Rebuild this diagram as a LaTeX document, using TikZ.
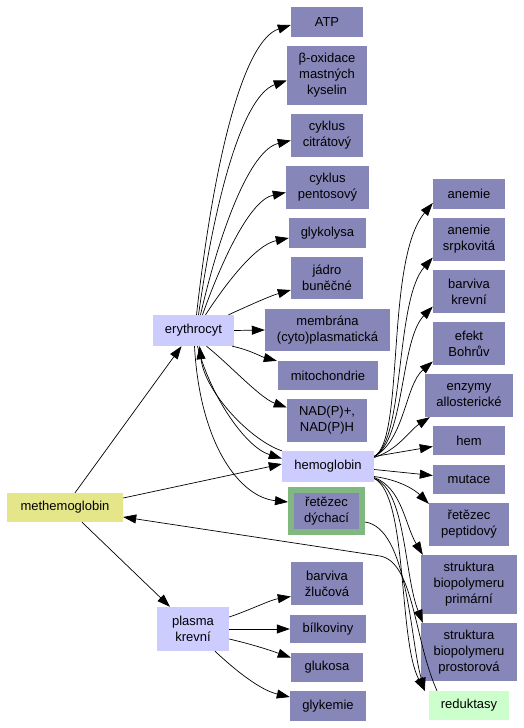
\documentclass[tikz,border=0pt]{standalone}
\usepackage{fontspec}
\setmainfont{Liberation Sans}
\usetikzlibrary{arrows.meta}
\definecolor{pur}{HTML}{8686B9}
\definecolor{lav}{HTML}{CCCCFF}
\definecolor{yel}{HTML}{E5E58A}
\definecolor{grn}{HTML}{80B880}
\definecolor{lgr}{HTML}{CCFFCC}
\tikzset{
  base/.style={rectangle, inner sep=0pt, align=center, font=\fontsize{13}{16}\selectfont},
  box/.style={base, fill=pur},
  lbox/.style={base, fill=lav},
  edge/.style={line width=0.7pt, -{Triangle[length=13pt,width=9pt]}},
}
\begin{document}
\begin{tikzpicture}[x=1pt,y=-1pt]
\useasboundingbox[fill=white] (0,0) rectangle (524,728);
% left/center nodes
\node[base, fill=yel, minimum width=116, minimum height=29] (meth) at (65,507.5) {methemoglobin};
\node[lbox, minimum width=81, minimum height=31] (ery) at (193.5,330.5) {erythrocyt};
\node[lbox, minimum width=72, minimum height=44] (plasma) at (193,629) {plasma\\krevní};
% middle column
\node[box, minimum width=72, minimum height=30] (atp) at (327,22) {ATP};
\node[box, minimum width=80, minimum height=59] (beta) at (327,75.5) {β-oxidace\\mastných\\kyselin};
\node[box, minimum width=72, minimum height=43] (citr) at (327,135.5) {cyklus\\citrátový};
\node[box, minimum width=83, minimum height=43] (pent) at (327.5,187.5) {cyklus\\pentosový};
\node[box, minimum width=77, minimum height=30] (glyk) at (327.5,233) {glykolysa};
\node[box, minimum width=72, minimum height=42] (jadro) at (327,278) {jádro\\buněčné};
\node[box, minimum width=125, minimum height=42] (mem) at (327.5,330) {membrána\\(cyto)plasmatická};
\node[box, minimum width=100, minimum height=29] (mito) at (328,375.5) {mitochondrie};
\node[box, minimum width=80, minimum height=43] (nad) at (327,420.5) {NAD(P)+,\\NAD(P)H};
\node[lbox, minimum width=92, minimum height=31] (hemo) at (328,466.5) {hemoglobin};
\node[box, draw=grn, line width=6pt, minimum width=71, minimum height=42] (dych) at (326.5,511) {řetězec\\dýchací};
\node[box, minimum width=72, minimum height=43] (zluc) at (327,583.5) {barviva\\žlučová};
\node[box, minimum width=76, minimum height=28] (bilk) at (328,629) {bílkoviny};
\node[box, minimum width=72, minimum height=29] (gluk) at (327,667.5) {glukosa};
\node[box, minimum width=76, minimum height=30] (glykem) at (328,706) {glykemie};
% right column
\node[box, minimum width=72, minimum height=30] (anem) at (469,194) {anemie};
\node[box, minimum width=72, minimum height=43] (srp) at (469,239.5) {anemie\\srpkovitá};
\node[box, minimum width=72, minimum height=43] (krev) at (469,291.5) {barviva\\krevní};
\node[box, minimum width=72, minimum height=43] (bohr) at (469,343.5) {efekt\\Bohrův};
\node[box, minimum width=88, minimum height=43] (enz) at (469,395.5) {enzymy\\allosterické};
\node[box, minimum width=72, minimum height=29] (hem) at (469,440.5) {hem};
\node[box, minimum width=72, minimum height=29] (mut) at (469,479.5) {mutace};
\node[box, minimum width=80, minimum height=43] (pept) at (469,524.5) {řetězec\\peptidový};
\node[box, minimum width=96, minimum height=59] (prim) at (469,584.5) {struktura\\biopolymeru\\primární};
\node[box, minimum width=96, minimum height=58] (prost) at (469,652) {struktura\\biopolymeru\\prostorová};
\node[base, fill=lgr, minimum width=80, minimum height=29] (red) at (469,705.5) {reduktasy};
% erythrocyt edges
\draw[edge] ([xshift=3pt]ery.north) .. controls (215,150) and (245,40) .. ([yshift=-3pt]atp.west);
\draw[edge] ([xshift=5pt]ery.north) .. controls (217,185) and (245,95) .. ([yshift=-5pt]beta.west);
\draw[edge] ([xshift=7pt]ery.north) .. controls (220,230) and (250,150) .. ([yshift=-5pt]citr.west);
\draw[edge] ([xshift=9pt]ery.north) .. controls (222,260) and (250,200) .. ([yshift=-5pt]pent.west);
\draw[edge] ([xshift=12pt]ery.north) .. controls (225,285) and (255,245) .. ([yshift=-5pt]glyk.west);
\draw[edge] ([xshift=35pt]ery.north) .. controls (250,305) and (270,296) .. ([yshift=-12pt]jadro.west);
\draw[edge] (ery.east) -- (mem.west);
\draw[edge] ([xshift=-2pt]ery.south east) .. controls (250,350) and (262,357) .. ([xshift=-1pt]mito.north west);
\draw[edge] ([xshift=13pt]ery.south) .. controls (230,365) and (260,398) .. ([yshift=13pt]nad.west);
\draw[edge] ([xshift=4pt]ery.south) .. controls (210,395) and (245,447) .. ([yshift=8pt]hemo.west);
\draw[edge] (hemo.north west) .. controls (250,440) and (205,392) .. ([xshift=6pt]ery.south);
\draw[edge] ([xshift=1pt]ery.south) .. controls (200,445) and (240,497) .. ([yshift=9pt]dych.west);
% methemoglobin edges
\draw[edge] ([xshift=10pt]meth.north) -- ([xshift=-12pt]ery.south);
\draw[edge] ([yshift=9.5pt]meth.east) -- ([yshift=2.5pt]hemo.west);
\draw[edge] ([xshift=17pt]meth.south) -- ([xshift=-23pt]plasma.north);
\draw[edge] ([xshift=-32pt]red.north) .. controls (414,640) and (414,562) .. (380,556) -- ([yshift=-9.5pt]meth.east);
% reduktasy inputs
\draw[edge] ([yshift=-11pt]dych.east) .. controls (408,528) and (410,640) .. ([xshift=-4pt]red.north west);
\draw[edge] ([yshift=-12pt]hemo.east) .. controls (408,495) and (398,640) .. ([xshift=-4pt]red.north west);
% hemoglobin edges
\draw[edge] ([yshift=10pt]hemo.east) .. controls (405,440) and (385,260) .. ([yshift=-9pt]anem.west);
\draw[edge] ([yshift=10pt]hemo.east) .. controls (405,440) and (395,300) .. ([yshift=-18pt]srp.west);
\draw[edge] ([yshift=10pt]hemo.east) .. controls (405,440) and (400,340) .. ([yshift=-15pt]krev.west);
\draw[edge] ([yshift=10pt]hemo.east) .. controls (405,440) and (405,385) .. ([yshift=-18pt]bohr.west);
\draw[edge] ([yshift=9pt]hemo.east) .. controls (398,450) and (410,430) .. ([xshift=5pt]enz.south west);
\draw[edge] ([yshift=10pt]hemo.east) -- ([yshift=-6pt]hem.west);
\draw[edge] ([yshift=-3pt]hemo.east) -- ([yshift=4pt]mut.west);
\draw[edge] ([yshift=-10pt]hemo.east) .. controls (400,480) and (415,490) .. ([yshift=-1pt]pept.north west);
\draw[edge] ([yshift=-11pt]hemo.east) .. controls (402,488) and (405,525) .. ([xshift=2pt]prim.north west);
\draw[edge] ([yshift=-12pt]hemo.east) .. controls (406,490) and (404,575) .. ([xshift=2pt]prost.north west);
% plasma edges
\draw[edge] ([yshift=12pt]plasma.east) .. controls (250,610) and (270,600) .. ([yshift=-13pt]zluc.west);
\draw[edge] (plasma.east) -- (bilk.west);
\draw[edge] ([yshift=-10pt]plasma.east) .. controls (255,645) and (272,651) .. ([yshift=10pt]gluk.west);
\draw[edge] ([xshift=22pt]plasma.south) .. controls (235,670) and (260,690) .. ([yshift=9pt]glykem.west);
\end{tikzpicture}
\end{document}
